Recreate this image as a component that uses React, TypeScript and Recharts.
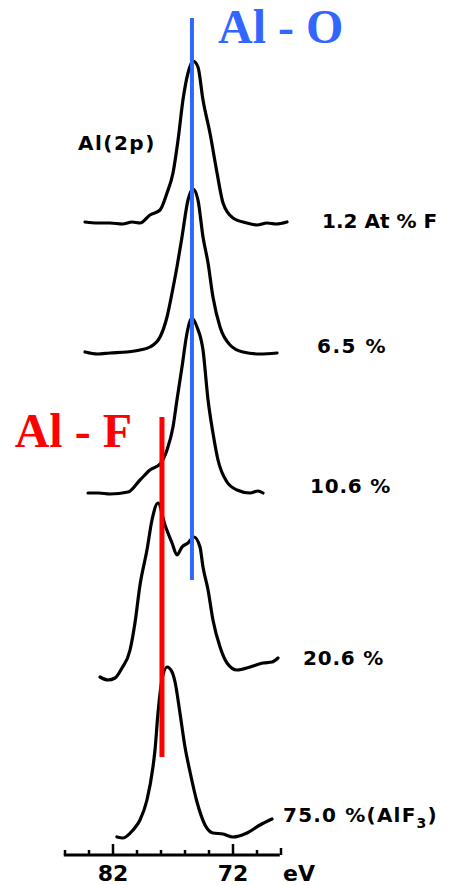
import React from 'react';
import { LineChart, Line, XAxis, YAxis, ReferenceLine, ReferenceDot } from 'recharts';

// Binding energy (eV) sample points and stacked intensities (arbitrary units, offset per spectrum)
const ev1 = [84.33, 83.3, 82.25, 81.2, 80.4, 79.75, 78.92, 78.08, 77.5, 77.0, 76.58, 76.17, 75.75, 75.33, 74.92, 74.5, 73.92, 73.33, 72.83, 72.0, 70.83, 70.0, 69.17, 68.4, 67.5];
const s1 = [633, 632, 632, 631, 633, 632, 640, 645, 662, 682, 715, 755, 782, 794, 788, 755, 722, 682, 652, 637, 632, 630, 632, 631, 633];

const ev2 = [84.33, 83.3, 82.25, 80.83, 79.75, 78.92, 78.08, 77.5, 77.08, 76.67, 76.25, 75.75, 75.33, 74.92, 74.5, 74.08, 73.67, 73.08, 72.25, 71.17, 69.75, 68.33];
const s2 = [503, 501, 502, 503, 505, 508, 518, 538, 562, 588, 618, 655, 666, 655, 618, 592, 558, 528, 510, 503, 501, 502];

const ev3 = [84.08, 83.2, 82.25, 80.75, 79.75, 78.92, 78.08, 77.5, 77.0, 76.67, 76.25, 75.83, 75.42, 75.0, 74.5, 74.08, 73.67, 73.25, 72.5, 71.67, 70.58, 69.92, 69.5];
const s3 = [362, 362, 361, 363, 375, 385, 391, 405, 428, 455, 488, 522, 537, 528, 505, 455, 422, 395, 373, 365, 362, 364, 362];

const ev4 = [83.08, 82.42, 81.83, 81.25, 80.58, 80.17, 79.75, 79.17, 78.75, 78.25, 77.67, 77.08, 76.67, 76.25, 75.75, 75.25, 74.75, 74.5, 74.08, 73.67, 73.08, 72.5, 71.67, 70.58, 69.5, 68.75, 68.25];
const s4 = [178, 175, 177, 187, 205, 232, 270, 305, 335, 352, 330, 312, 300, 308, 312, 318, 308, 288, 265, 235, 208, 192, 185, 188, 192, 193, 197];

const ev5 = [81.67, 81.17, 80.33, 79.75, 79.17, 78.67, 78.5, 78.25, 77.92, 77.5, 77.08, 76.83, 76.42, 76.0, 75.58, 75.0, 74.33, 73.67, 72.83, 72.0, 70.83, 69.75, 68.75];
const s5 = [18, 17, 25, 35, 55, 88, 105, 142, 175, 188, 183, 173, 142, 108, 83, 53, 30, 22, 21, 18, 22, 30, 36];

const spectrumLabels = ['1.2 At % F', '6.5 %', '10.6 %', '20.6 %', '75.0 %(AlF'];
const axisTicks = [86, 84, 82, 80, 78, 76, 74, 72, 70, 68];
const labeledTicks = [82, 72];
const axisUnit = 'eV';

const alO = { ev: 75.42, from: 275, to: 837 };
const alF = { ev: 77.92, from: 98, to: 438 };

const toRows = (xs: number[], ys: number[]) => xs.map((x, i) => ({ ev: x, v: ys[i] }));
const spectra = [toRows(ev1, s1), toRows(ev2, s2), toRows(ev3, s3), toRows(ev4, s4), toRows(ev5, s5)];

const labelFont = '"DejaVu Sans", "Liberation Sans", sans-serif';

const AxisTick = (props: any) => {
  const { x, y, payload } = props;
  const v = payload.value;
  const major = labeledTicks.includes(v);
  const len = major ? 11 : v === 68 ? 7 : 5;
  return (
    <g>
      <line x1={x} x2={x} y1={y} y2={y - len} stroke="#000" strokeWidth={2.5} />
      {major && (
        <text x={x} y={y + 26} textAnchor="middle" fontFamily={labelFont} fontWeight="bold" fontSize={22} fill="#000">
          {v}
        </text>
      )}
      {v === 68 && (
        <text x={x + 2} y={y + 26} textAnchor="start" fontFamily={labelFont} fontWeight="bold" fontSize={22} fill="#000">
          {axisUnit}
        </text>
      )}
    </g>
  );
};

const textShape = (content: React.ReactNode, opts: any) => (p: any) => (
  <text
    x={p.cx}
    y={p.cy}
    textAnchor={opts.anchor || 'start'}
    fontFamily={opts.font || labelFont}
    fontSize={opts.size || 20}
    fontWeight={opts.weight || 'bold'}
    letterSpacing={opts.spacing ?? 0.8}
    fill={opts.color || '#000'}
  >
    {content}
  </text>
);

const annotations = [
  { ev: 84.92, y: 705, content: 'Al(2p)', opts: { spacing: 1.5 } },
  { ev: 64.58, y: 627, content: spectrumLabels[0], opts: { spacing: 0 } },
  { ev: 65.0, y: 502, content: spectrumLabels[1], opts: { spacing: 1.5 } },
  { ev: 65.58, y: 362, content: spectrumLabels[2], opts: {} },
  { ev: 66.17, y: 190, content: spectrumLabels[3], opts: {} },
  {
    ev: 67.83,
    y: 33,
    content: (
      <>
        {spectrumLabels[4]}
        <tspan dy={6} fontSize={14}>3</tspan>
        <tspan dy={-6}>)</tspan>
      </>
    ),
    opts: { spacing: 1.2 },
  },
  { ev: 73.25, y: 812, content: 'Al - O', opts: { font: '"Liberation Serif", "Times New Roman", serif', size: 48, weight: 'bold', spacing: 0, color: '#3366ff' } },
  { ev: 80.42, y: 408, content: 'Al - F', opts: { font: '"Liberation Serif", "Times New Roman", serif', size: 48, weight: 'bold', spacing: 0, color: '#ff0000', anchor: 'end' } },
];

export default function App() {
  return (
    <div style={{ position: 'absolute', left: 0, top: 0, background: '#fff' }}>
      <LineChart width={461} height={885} margin={{ top: 0, right: 0, bottom: 0, left: 41 }}>
        <XAxis
          dataKey="ev"
          type="number"
          domain={[53, 88]}
          reversed
          allowDataOverflow
          ticks={axisTicks}
          interval={0}
          tick={<AxisTick />}
          tickLine={false}
          axisLine={false}
          tickSize={0}
          tickMargin={0}
          height={30}
        />
        <YAxis type="number" domain={[0, 855]} hide allowDataOverflow />
        <ReferenceLine
          segment={[{ x: 86.1, y: 0 }, { x: 68.1, y: 0 }]}
          stroke="#000"
          strokeWidth={3}
        />
        {spectra.map((d, i) => (
          <Line
            key={i}
            data={d}
            dataKey="v"
            type="monotone"
            stroke="#000"
            strokeWidth={3.2}
            strokeLinejoin="round"
            strokeLinecap="round"
            dot={false}
            activeDot={false}
            isAnimationActive={false}
          />
        ))}
        <ReferenceLine
          segment={[{ x: alO.ev, y: alO.from }, { x: alO.ev, y: alO.to }]}
          stroke="#3366ff"
          strokeWidth={4}
        />
        <ReferenceLine
          segment={[{ x: alF.ev, y: alF.from }, { x: alF.ev, y: alF.to }]}
          stroke="#ff0000"
          strokeWidth={5}
        />
        {annotations.map((a, i) => (
          <ReferenceDot
            key={'a' + i}
            x={a.ev}
            y={a.y}
            r={0}
            ifOverflow="visible"
            shape={textShape(a.content, a.opts)}
          />
        ))}
      </LineChart>
    </div>
  );
}
